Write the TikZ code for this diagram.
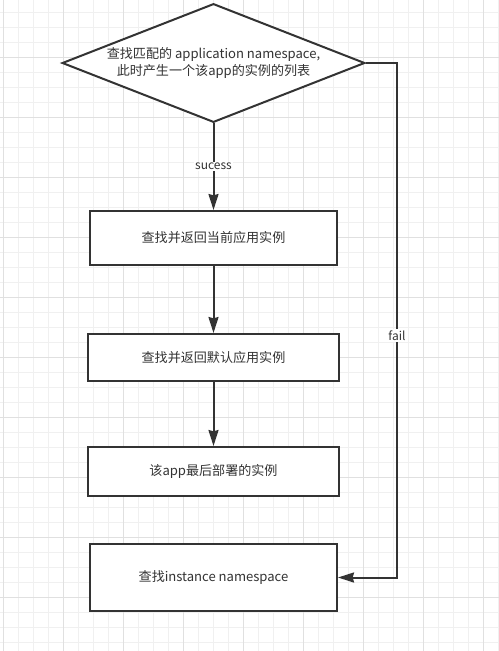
\documentclass[tikz,border=0pt]{standalone}
\usepackage{fontspec}
\setmainfont{Noto Sans CJK SC}
\usetikzlibrary{shapes.geometric,arrows.meta}
\definecolor{ink}{HTML}{333333}
\definecolor{gridminor}{HTML}{F0F0F0}
\definecolor{gridmajor}{HTML}{E0E0E0}

\begin{document}
\begin{tikzpicture}[x=0.75pt,y=-0.75pt,>={Stealth[length=12pt,width=7.5pt,inset=1pt]},
    decision/.style={diamond,aspect=2.57,draw=ink,line width=1.5pt,fill=white,inner sep=0pt,
      minimum width=227pt,minimum height=89pt,align=center,text=ink,
      font=\fontsize{9.8}{12.5}\selectfont},
    process/.style={rectangle,draw=ink,line width=1.5pt,fill=white,text=ink,
      font=\fontsize{9.8}{12.5}\selectfont},
    flow/.style={->,draw=ink,line width=1.5pt},
    lbl/.style={fill=white,text=ink,inner sep=1pt,font=\fontsize{9}{11}\selectfont}]
    \useasboundingbox[fill=white] (0,0) rectangle (499,651);
    \foreach \k in {0,...,33}
      \draw[gridminor,line width=0.75pt] (3+15*\k,0) -- (3+15*\k,651);
    \foreach \k in {0,...,42}
      \draw[gridminor,line width=0.75pt] (0,12+15*\k) -- (499,12+15*\k);
    \foreach \k in {0,...,8}
      \draw[gridmajor,line width=0.75pt] (3+60*\k,0) -- (3+60*\k,651);
    \foreach \k in {0,...,10}
      \draw[gridmajor,line width=0.75pt] (0,57+60*\k) -- (499,57+60*\k);
    \node[decision] (dec) at (213.5,63) {查找匹配的 application namespace,\\此时产生一个该app的实例的列表};
    \node[process,minimum width=185.25pt,minimum height=40.5pt] (cur) at (213.5,238) {查找并返回当前应用实例};
    \node[process,minimum width=188.25pt,minimum height=35.25pt] (def) at (213.5,357.5) {查找并返回默认应用实例};
    \node[process,minimum width=188.25pt,minimum height=36.75pt] (last) at (213.5,471.5) {该app最后部署的实例};
    \node[process,minimum width=185.25pt,minimum height=50.25pt] (ins) at (213.5,577.5) {查找instance namespace};
    \coordinate (turn) at (397,577.5);
    \draw[flow] (dec) -- node[lbl]{sucess} (cur);
    \draw[flow] (cur) -- (def);
    \draw[flow] (def) -- (last);
    \draw[flow] (dec.east) -| node[lbl,pos=0.765]{fail} (turn) -- (ins.east);
  \end{tikzpicture}
\end{document}
